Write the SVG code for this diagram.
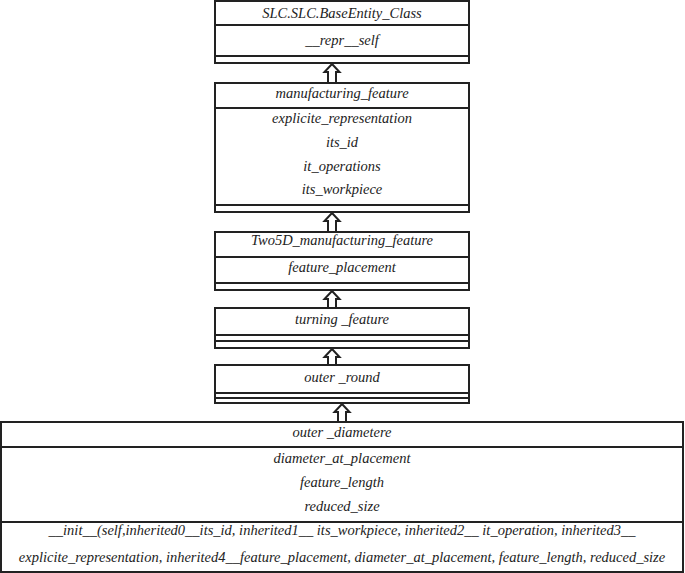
<svg xmlns="http://www.w3.org/2000/svg" width="685" height="573" viewBox="0 0 685 573">
<style>
.box{fill:#fff;stroke:#222;stroke-width:2}
.ln{stroke:#222;stroke-width:2}
text{font-family:'Liberation Serif','DejaVu Serif',serif;font-style:italic;font-size:14.5px;fill:#222;text-anchor:middle}
.arr{fill:#fff;stroke:#222;stroke-width:2;stroke-linejoin:miter}
</style>
<rect width="685" height="573" fill="#fff"/>
<g id="connectors">
<path class="arr" d="M332,64 L339.5,72 L336,72 L336,83 L328,83 L328,72 L324.5,72 Z"/>
<path class="arr" d="M332,213 L339.5,221 L336,221 L336,232 L328,232 L328,221 L324.5,221 Z"/>
<path class="arr" d="M332,291 L339.5,299 L336,299 L336,308 L328,308 L328,299 L324.5,299 Z"/>
<path class="arr" d="M332,349 L339.5,357 L336,357 L336,365 L328,365 L328,357 L324.5,357 Z"/>
<path class="arr" d="M342,404 L349.5,412 L346,412 L346,422 L338,422 L338,412 L334.5,412 Z"/>
</g>
<g id="BaseEntity">
<rect class="box" x="215" y="1" width="254" height="62"/>
<line class="ln" x1="215" y1="25" x2="469" y2="25"/>
<line class="ln" x1="215" y1="56" x2="469" y2="56"/>
<text x="342" y="18">SLC.SLC.BaseEntity_Class</text>
<text x="342" y="45">__repr__self</text>
</g>
<g id="manufacturing_feature">
<rect class="box" x="215" y="83" width="254" height="129"/>
<line class="ln" x1="215" y1="108" x2="469" y2="108"/>
<line class="ln" x1="215" y1="205" x2="469" y2="205"/>
<text x="342" y="98">manufacturing_feature</text>
<text x="342" y="123">explicite_representation</text>
<text x="342" y="147">its_id</text>
<text x="342" y="171">it_operations</text>
<text x="342" y="194">its_workpiece</text>
</g>
<g id="Two5D">
<rect class="box" x="215" y="232" width="254" height="58"/>
<line class="ln" x1="215" y1="257" x2="469" y2="257"/>
<line class="ln" x1="215" y1="283" x2="469" y2="283"/>
<text x="342" y="245">Two5D_manufacturing_feature</text>
<text x="342" y="272">feature_placement</text>
</g>
<g id="turning_feature">
<rect class="box" x="215" y="308" width="254" height="40"/>
<line class="ln" x1="215" y1="335" x2="469" y2="335"/>
<line class="ln" x1="215" y1="341" x2="469" y2="341"/>
<text x="342" y="324">turning _feature</text>
</g>
<g id="outer_round">
<rect class="box" x="215" y="365" width="254" height="38"/>
<line class="ln" x1="215" y1="393" x2="469" y2="393"/>
<line class="ln" x1="215" y1="398" x2="469" y2="398"/>
<text x="342" y="382">outer _round</text>
</g>
<g id="outer_diametere">
<rect class="box" x="1" y="422" width="682" height="150"/>
<line class="ln" x1="1" y1="447" x2="683" y2="447"/>
<line class="ln" x1="1" y1="522" x2="683" y2="522"/>
<text x="342" y="437">outer _diametere</text>
<text x="342" y="463">diameter_at_placement</text>
<text x="342" y="487">feature_length</text>
<text x="342" y="511">reduced_size</text>
<text x="342" y="535">__init__(self,inherited0__its_id, inherited1__ its_workpiece, inherited2__ it_operation, inherited3__</text>
<text x="342" y="562">explicite_representation, inherited4__feature_placement, diameter_at_placement, feature_length, reduced_size</text>
</g>
</svg>
